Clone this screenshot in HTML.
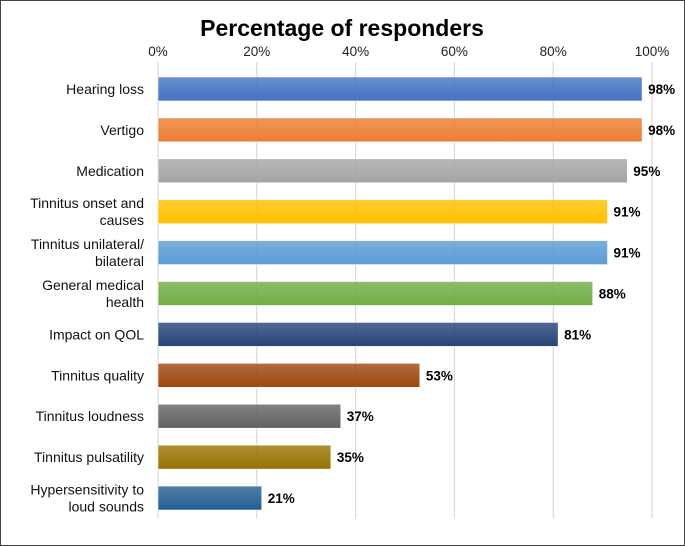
<!DOCTYPE html>
<html><head><meta charset="utf-8"><style>
body{margin:0;background:#fff;}
svg{display:block;font-family:"Liberation Sans",Arial,sans-serif;}
</style></head><body>
<svg id="chart" width="685" height="546">
<defs id="defs"></defs>
<rect x="0.5" y="0.5" width="684" height="545" fill="#fff" stroke="#444"/>
<text x="342" y="36" text-anchor="middle" font-size="23" font-weight="bold">Percentage of responders</text>
<g id="grid"></g><g id="bars"></g>
</svg>
<script>
const categories=[["Hearing loss"],["Vertigo"],["Medication"],["Tinnitus onset and","causes"],["Tinnitus unilateral/","bilateral"],["General medical","health"],["Impact on QOL"],["Tinnitus quality"],["Tinnitus loudness"],["Tinnitus pulsatility"],["Hypersensitivity to","loud sounds"]];
const values=[98,98,95,91,91,88,81,53,37,35,21];
const tickValues=[0,20,40,60,80,100];
const colors=["#4472C4","#ED7D31","#A5A5A5","#FFC000","#5B9BD5","#70AD47","#264478","#9E480E","#636363","#997300","#255E91"];
const NS="http://www.w3.org/2000/svg";
const x0=158,x1=652,yTop=68.5,yBot=518.5;
const xs=v=>x0+(v/100)*(x1-x0);
const band=(yBot-yTop)/categories.length;
const ys=i=>yTop+band*i+band/2;
function mk(t,a,p){const e=document.createElementNS(NS,t);for(const k in a)e.setAttribute(k,a[k]);p.appendChild(e);return e;}
const grid=document.getElementById('grid'),bars=document.getElementById('bars'),defs=document.getElementById('defs');
tickValues.forEach(v=>{
 const l=mk('line',{x1:xs(v),x2:xs(v),y1:62,y2:yBot,stroke:'#d9d9d9','stroke-width':1.2},grid);
 
 
 const t=mk('text',{x:xs(v),y:56,'text-anchor':'middle','font-size':13.5,fill:'#222'},grid);
 t.textContent=v+'%';
 
 
});
values.forEach((v,i)=>{
 const g=mk('linearGradient',{id:'g'+i,x1:0,y1:0,x2:0,y2:1},defs);
 mk('stop',{offset:0,'stop-color':colors[i],'stop-opacity':0.8},g);
 mk('stop',{offset:1,'stop-color':colors[i]},g);
 const h=24,y=ys(i);
 const r=mk('rect',{x:x0,y:y-h/2,width:xs(v)-x0,height:h,fill:'url(#g'+i+')',stroke:'#fff','stroke-width':0.6},bars);
 
 
 const t=mk('text',{x:xs(v)+6,y:y+5,'font-size':13.5,'font-weight':'bold'},bars);
 t.textContent=v+'%';
 
 
 const c=categories[i];
 const lt=mk('text',{x:144,'text-anchor':'end','font-size':14,fill:'#111'},bars);
 
 
 c.forEach((s,j)=>{const ts=mk('tspan',{x:144,y:y+5+(j-(c.length-1)/2)*17},lt);ts.textContent=s;});
});
</script>
</body></html>
